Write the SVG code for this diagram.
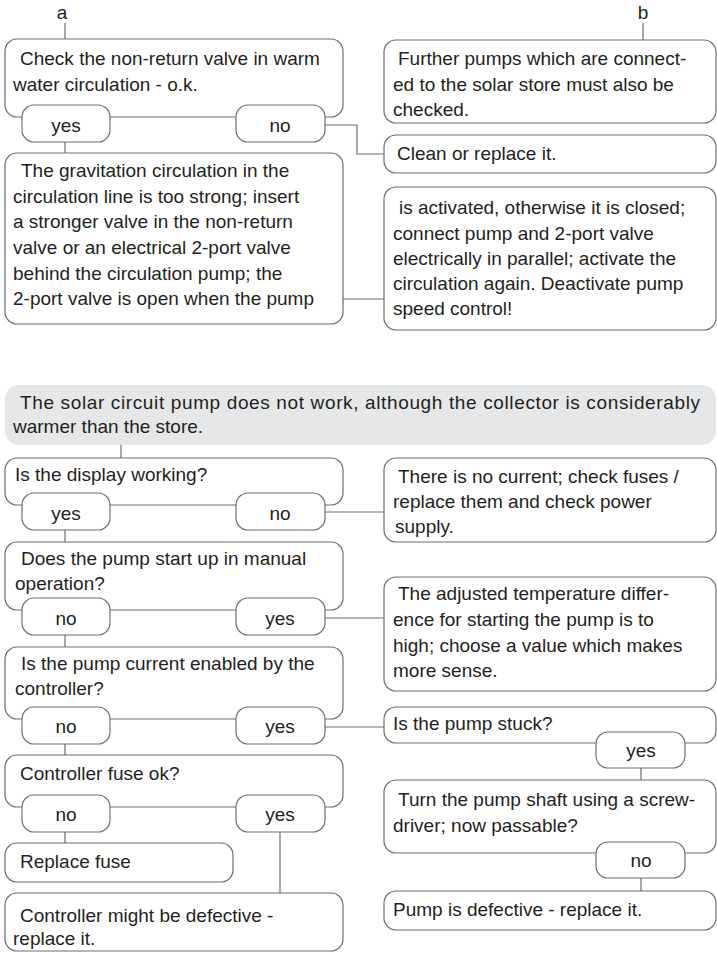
<svg xmlns="http://www.w3.org/2000/svg" width="717" height="953" viewBox="0 0 717 953">
<style>
.bx{fill:#ffffff;stroke:#6d6e71;stroke-width:1.2}
.pl{fill:#ffffff;stroke:#6d6e71;stroke-width:1.2}
.gr{fill:#e6e7e8;stroke:none}
.cn{fill:none;stroke:#6d6e71;stroke-width:1.2}
text{font-family:"Liberation Sans",Arial,sans-serif;font-size:19px;fill:#231f20}
.c{text-anchor:middle}
</style>
<rect width="717" height="953" fill="#ffffff"/>
<g id="connectors">
<path class="cn" d="M65 23V39M643 23V40M65 142V153M325 125H357V154H384M343 299H384"/>
<path class="cn" d="M121 445V458M65 530V542M325 512H384M65 635V647M325 618H384M65 743V755M325 727H384M641 768V780M641 878V891M65 832V843M280 832V893"/>
</g>
<g id="label-a"><text class="c" x="62" y="19">a</text></g>
<g id="label-b"><text class="c" x="643" y="19">b</text></g>
<g id="check-valve">
<rect class="bx" x="5" y="39" width="338" height="78" rx="12"/>
<text x="20" y="65">Check the non-return valve in warm</text>
<text x="13" y="91">water circulation - o.k.</text>
</g>
<g id="check-valve-yes"><rect class="pl" x="22" y="105" width="88" height="37" rx="12"/><text class="c" x="66" y="132">yes</text></g>
<g id="check-valve-no"><rect class="pl" x="236" y="105" width="89" height="37" rx="12"/><text class="c" x="280" y="132">no</text></g>
<g id="gravitation">
<rect class="bx" x="5" y="153" width="338" height="171" rx="12"/>
<text x="21" y="177">The gravitation circulation in the</text>
<text x="13" y="203">circulation line is too strong; insert</text>
<text x="13" y="228">a stronger valve in the non-return</text>
<text x="13" y="254">valve or an electrical 2-port valve</text>
<text x="13" y="280">behind the circulation pump; the</text>
<text x="13" y="305">2-port valve is open when the pump</text>
</g>
<g id="further-pumps">
<rect class="bx" x="384" y="40" width="332" height="83" rx="12"/>
<text x="398" y="65">Further pumps which are connect-</text>
<text x="393" y="91">ed to the solar store must also be</text>
<text x="393" y="116">checked.</text>
</g>
<g id="clean">
<rect class="bx" x="384" y="135" width="332" height="38" rx="12"/>
<text x="397" y="160">Clean or replace it.</text>
</g>
<g id="activated">
<rect class="bx" x="384" y="187" width="332" height="143" rx="12"/>
<text x="399" y="214">is activated, otherwise it is closed;</text>
<text x="393" y="240">connect pump and 2-port valve</text>
<text x="393" y="265">electrically in parallel; activate the</text>
<text x="393" y="290">circulation again. Deactivate pump</text>
<text x="393" y="315">speed control!</text>
</g>
<g id="solar-title">
<rect class="gr" x="5" y="385" width="711" height="60" rx="14"/>
<text x="20" y="409" textLength="680" lengthAdjust="spacing">The solar circuit pump does not work, although the collector is considerably</text>
<text x="13" y="433">warmer than the store.</text>
</g>
<g id="display">
<rect class="bx" x="5" y="458" width="338" height="47" rx="12"/>
<text x="15" y="481">Is the display working?</text>
</g>
<g id="display-yes"><rect class="pl" x="22" y="493" width="88" height="37" rx="12"/><text class="c" x="66" y="520">yes</text></g>
<g id="display-no"><rect class="pl" x="236" y="493" width="89" height="37" rx="12"/><text class="c" x="280" y="520">no</text></g>
<g id="no-current">
<rect class="bx" x="384" y="458" width="332" height="84" rx="12"/>
<text x="398" y="483">There is no current; check fuses /</text>
<text x="393" y="508">replace them and check power</text>
<text x="395" y="533">supply.</text>
</g>
<g id="manual">
<rect class="bx" x="5" y="542" width="338" height="68" rx="12"/>
<text x="21" y="565">Does the pump start up in manual</text>
<text x="15" y="590">operation?</text>
</g>
<g id="manual-no"><rect class="pl" x="22" y="598" width="88" height="37" rx="12"/><text class="c" x="66" y="625">no</text></g>
<g id="manual-yes"><rect class="pl" x="236" y="598" width="89" height="37" rx="12"/><text class="c" x="280" y="625">yes</text></g>
<g id="adjusted">
<rect class="bx" x="384" y="577" width="332" height="114" rx="12"/>
<text x="398" y="600">The adjusted temperature differ-</text>
<text x="393" y="626">ence for starting the pump is to</text>
<text x="393" y="652">high; choose a value which makes</text>
<text x="393" y="677">more sense.</text>
</g>
<g id="current">
<rect class="bx" x="5" y="647" width="338" height="72" rx="12"/>
<text x="21" y="670">Is the pump current enabled by the</text>
<text x="15" y="695">controller?</text>
</g>
<g id="current-no"><rect class="pl" x="22" y="707" width="88" height="37" rx="12"/><text class="c" x="66" y="733">no</text></g>
<g id="current-yes"><rect class="pl" x="236" y="707" width="89" height="37" rx="12"/><text class="c" x="280" y="733">yes</text></g>
<g id="stuck">
<rect class="bx" x="384" y="707" width="332" height="36" rx="12"/>
<text x="393" y="730">Is the pump stuck?</text>
</g>
<g id="stuck-yes"><rect class="pl" x="596" y="732" width="89" height="36" rx="12"/><text class="c" x="641" y="757">yes</text></g>
<g id="shaft">
<rect class="bx" x="384" y="780" width="332" height="73" rx="12"/>
<text x="398" y="806">Turn the pump shaft using a screw-</text>
<text x="393" y="832">driver; now passable?</text>
</g>
<g id="shaft-no"><rect class="pl" x="596" y="842" width="89" height="36" rx="12"/><text class="c" x="641" y="867">no</text></g>
<g id="pump-defective">
<rect class="bx" x="384" y="891" width="332" height="39" rx="12"/>
<text x="393" y="916">Pump is defective - replace it.</text>
</g>
<g id="fuse">
<rect class="bx" x="5" y="755" width="338" height="52" rx="12"/>
<text x="20" y="780">Controller fuse ok?</text>
</g>
<g id="fuse-no"><rect class="pl" x="22" y="795" width="88" height="37" rx="12"/><text class="c" x="66" y="821">no</text></g>
<g id="fuse-yes"><rect class="pl" x="236" y="795" width="89" height="37" rx="12"/><text class="c" x="280" y="821">yes</text></g>
<g id="replace-fuse">
<rect class="bx" x="5" y="843" width="228" height="39" rx="12"/>
<text x="20" y="868">Replace fuse</text>
</g>
<g id="controller-defective">
<rect class="bx" x="5" y="893" width="338" height="58" rx="12"/>
<text x="20" y="922">Controller might be defective -</text>
<text x="13" y="945">replace it.</text>
</g>
</svg>
